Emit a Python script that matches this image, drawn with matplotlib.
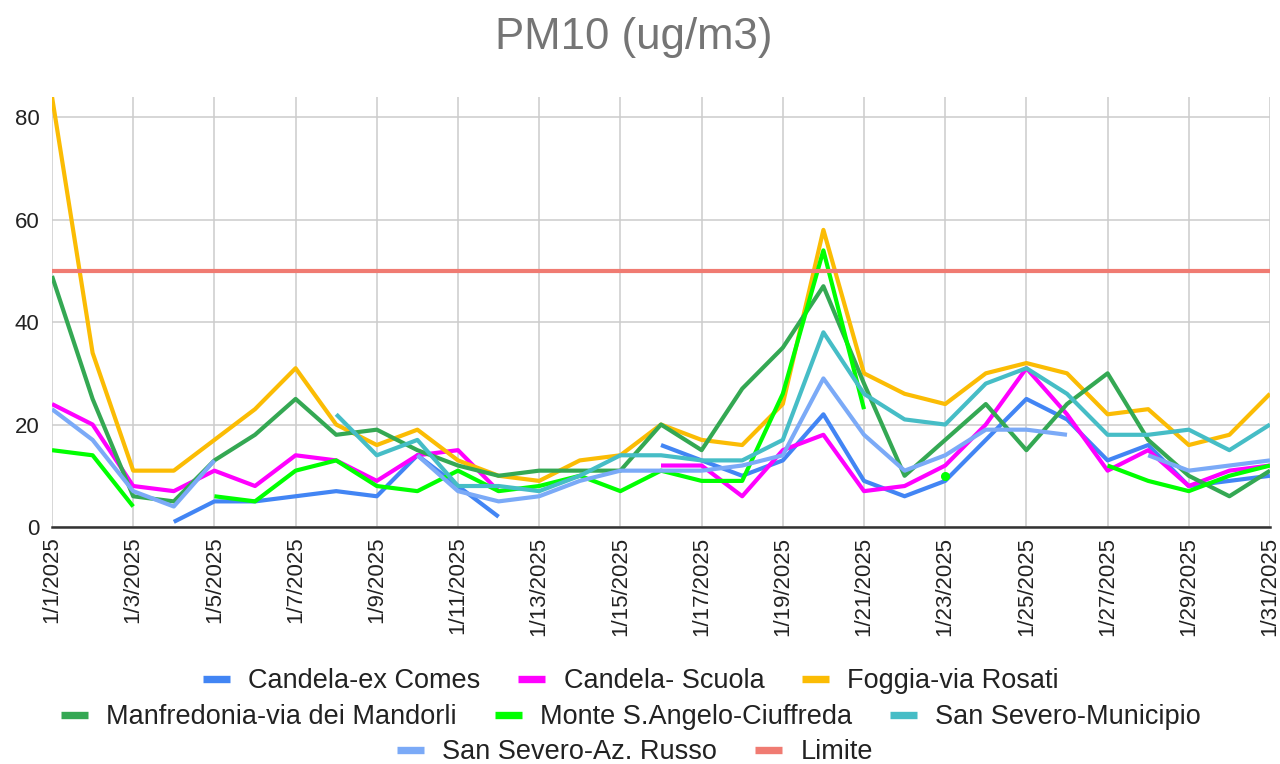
import numpy as np
import matplotlib
matplotlib.use("Agg")
import matplotlib.pyplot as plt
from matplotlib.lines import Line2D

plt.rcParams['font.family'] = ['Liberation Sans', 'DejaVu Sans']

N = np.nan
days = list(range(1, 32))
tick_days = list(range(1, 32, 2))
tick_labels = [f"1/{d}/2025" for d in tick_days]

series_names = [
    "Candela-ex Comes", "Candela- Scuola", "Foggia-via Rosati",
    "Manfredonia-via dei Mandorli", "Monte S.Angelo-Ciuffreda",
    "San Severo-Municipio", "San Severo-Az. Russo", "Limite",
]
colors = ["#4285F4", "#FF00FF", "#FBBC04", "#34A853", "#00FF00",
          "#46BDC6", "#7BAAF7", "#F07B72"]

candela_ex_comes = [N, N, N, 1, 5, 5, 6, 7, 6, 14, 8, 2, N, N, N, 16, 13, 10, 13, 22,
                    9, 6, 9, 17, 25, 21, 13, 16, 8, 9, 10]
candela_scuola = [24, 20, 8, 7, 11, 8, 14, 13, 9, 14, 15, 7, N, N, N, 12, 12, 6, 15, 18,
                  7, 8, 12, 20, 31, 22, 11, 15, 8, 11, 12]
foggia_rosati = [84, 34, 11, 11, 17, 23, 31, 20, 16, 19, 13, 10, 9, 13, 14, 20, 17, 16, 24, 58,
                 30, 26, 24, 30, 32, 30, 22, 23, 16, 18, 26]
manfredonia = [49, 25, 6, 5, 13, 18, 25, 18, 19, 15, 12, 10, 11, 11, 11, 20, 15, 27, 35, 47,
               28, 10, 17, 24, 15, 24, 30, 17, 10, 6, 11]
monte_sangelo = [15, 14, 4, N, 6, 5, 11, 13, 8, 7, 11, 7, 8, 10, 7, 11, 9, 9, 26, 54,
                 23, N, 10, N, N, N, 12, 9, 7, 10, 12]
san_severo_municipio = [N, N, N, N, N, N, N, 22, 14, 17, 8, 8, 7, 10, 14, 14, 13, 13, 17, 38,
                        26, 21, 20, 28, 31, 26, 18, 18, 19, 15, 20]
san_severo_russo = [23, 17, 7, 4, 13, N, N, N, N, 14, 7, 5, 6, 9, 11, 11, 11, 12, 14, 29,
                    18, 11, 14, 19, 19, 18, N, 14, 11, 12, 13]
limite = [50] * 31

all_series = [candela_ex_comes, candela_scuola, foggia_rosati, manfredonia,
              monte_sangelo, san_severo_municipio, san_severo_russo, limite]

fig = plt.figure(figsize=(12.8, 7.64), dpi=100)
ax = fig.add_axes([52 / 1280, 1 - 527 / 764, (1270 - 52) / 1280, (527 - 96.7) / 764])

lw = 3.0
for i, (name, vals, col) in enumerate(zip(series_names, all_series, colors)):
    y = np.array(vals, dtype=float)
    x = np.array(days, dtype=float)
    ax.plot(x, y, color=col, lw=lw, solid_joinstyle='round', solid_capstyle='butt',
            zorder=3 + i, clip_on=True)
    # isolated points (no neighbours) drawn as dots
    for k in range(len(y)):
        if np.isnan(y[k]):
            continue
        left = np.isnan(y[k - 1]) if k > 0 else True
        right = np.isnan(y[k + 1]) if k < len(y) - 1 else True
        if left and right:
            ax.plot([x[k]], [y[k]], 'o', color=col, ms=5.5, zorder=3 + i)

ax.set_xlim(1, 31)
ax.set_ylim(0, 84)
ax.set_xticks(tick_days)
ax.set_xticklabels(tick_labels, rotation=90, fontsize=16, color="#222222")
ax.set_yticks([0, 20, 40, 60, 80])
ax.set_yticklabels(["0", "20", "40", "60", "80"], fontsize=16, color="#222222")
ax.tick_params(axis='both', length=0)
ax.tick_params(axis='x', pad=7)
ax.tick_params(axis='y', pad=9)

ax.grid(True, color="#cccccc", lw=1.1, zorder=0)
ax.set_axisbelow(True)
for s in ['top', 'right', 'left']:
    ax.spines[s].set_visible(False)
ax.spines['bottom'].set_color("#333333")
ax.spines['bottom'].set_linewidth(1.8)
ax.spines['bottom'].set_zorder(20)

fig.text(0.495, 1 - 38 / 764, "PM10 (ug/m3)", ha='center', va='center',
         fontsize=31.5, color="#757575")

rows = [[0, 1, 2], [3, 4, 5], [6, 7]]
row_y = [1 - 681 / 764, 1 - 717 / 764, 1 - 752 / 764]
row_x = [0.493, 0.493, 0.496]
for r, yy, xx in zip(rows, row_y, row_x):
    handles = [Line2D([0], [0], color=colors[j], lw=5.3, solid_capstyle='butt') for j in r]
    labels = [series_names[j] for j in r]
    leg = fig.legend(handles, labels, loc='center', bbox_to_anchor=(xx, yy),
                     ncol=len(r), frameon=False, fontsize=19.5, handlelength=1.0,
                     handletextpad=0.67, columnspacing=1.4, borderpad=0, borderaxespad=0)
    for t in leg.get_texts():
        t.set_color("#222222")

fig.savefig("out.png", dpi=100)
